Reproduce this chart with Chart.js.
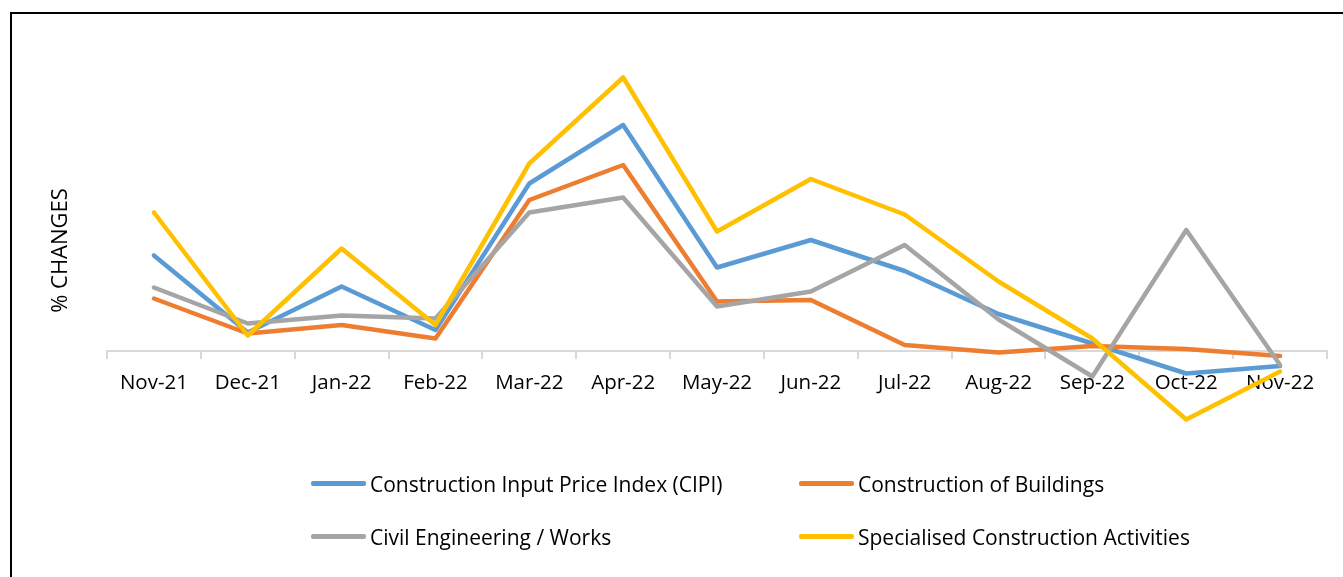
<!DOCTYPE html>
<html>
<head>
<meta charset="utf-8">
<script src="https://cdn.jsdelivr.net/npm/chart.js@4.4.1/dist/chart.umd.min.js"></script>
<style>
  html, body { margin: 0; padding: 0; background: #fff; overflow: hidden; width: 1343px; height: 577px; }
  #frame { position: absolute; left: 10px; top: 12px; width: 1500px; height: 700px;
           border-top: 2px solid #000; border-left: 2px solid #000; box-sizing: border-box; }
  #c { position: absolute; left: 0; top: 0; }
  #legend { position: absolute; left: 0; top: 0; width: 1343px; height: 577px; pointer-events: none;
            font-family: "Open Sans", "Noto Sans", sans-serif; font-size: 21px; color: #000; }
  .li { position: absolute; display: flex; align-items: center; height: 30px; white-space: nowrap; }
  .sw { width: 55px; height: 4.5px; border-radius: 2px; margin-right: 4px; }
</style>
</head>
<body>
<div id="frame"></div>
<canvas id="c" width="1343" height="577"></canvas>
<div id="legend"></div>
<script>
const categories = ["Nov-21","Dec-21","Jan-22","Feb-22","Mar-22","Apr-22","May-22","Jun-22","Jul-22","Aug-22","Sep-22","Oct-22","Nov-22"];
const seriesNames = ["Construction Input Price Index (CIPI)","Construction of Buildings","Civil Engineering / Works","Specialised Construction Activities"];
const cipi        = [1.90, 0.36, 1.28, 0.41, 3.34, 4.51, 1.66, 2.21, 1.59, 0.73, 0.14, -0.46, -0.31];
const buildings   = [1.04, 0.34, 0.51, 0.24, 3.01, 3.71, 0.98, 1.01, 0.11, -0.04, 0.09, 0.03, -0.11];
const civil       = [1.26, 0.54, 0.70, 0.64, 2.76, 3.06, 0.88, 1.18, 2.11, 0.62, -0.52, 2.41, -0.29];
const specialised = [2.76, 0.30, 2.04, 0.51, 3.74, 5.46, 2.38, 3.43, 2.72, 1.38, 0.24, -1.38, -0.42];
const yTitle = "% CHANGES";

const colors = ["#5B9BD5", "#ED7D31", "#A5A5A5", "#FFC000"];
const allSeries = [cipi, buildings, civil, specialised];

const datasets = allSeries.map((d, i) => ({
  label: seriesNames[i],
  data: d,
  borderColor: colors[i],
  backgroundColor: colors[i],
  borderWidth: 4.5,
  pointRadius: 0,
  pointHoverRadius: 0,
  tension: 0,
  fill: false,
  borderJoinStyle: 'round',
  borderCapStyle: 'round',
  order: 4 - i
}));

const chart = new Chart(document.getElementById('c'), {
  type: 'line',
  data: { labels: categories, datasets },
  options: {
    responsive: false,
    animation: false,
    devicePixelRatio: 1,
    layout: { padding: { left: 44, right: 16, top: 50.5, bottom: 126.5 } },
    plugins: { legend: { display: false }, tooltip: { enabled: false } },
    scales: {
      x: {
        position: { y: 0 },
        offset: true,
        grid: { display: true, drawOnChartArea: false, drawTicks: true, tickLength: 7, color: '#D9D9D9', lineWidth: 2, offset: true },
        border: { display: true, color: '#D9D9D9', width: 2 },
        ticks: { color: '#000', font: { family: '"Open Sans", "Noto Sans", sans-serif', size: 20.5 }, maxRotation: 0, autoSkip: false, padding: 13 }
      },
      y: {
        min: -2,
        max: 6,
        grid: { display: false },
        border: { display: false },
        ticks: { display: false },
        title: { display: true, text: yTitle, color: '#000', font: { family: '"Open Sans", "Noto Sans", sans-serif', size: 22 }, padding: { top: 4, bottom: 10 } },
        afterFit: (s) => { s.width = 63; }
      }
    }
  }
});

// HTML legend built from chart datasets
const legendEl = document.getElementById('legend');
const colX = [311, 799];
const rowY = [483.5, 536.5];
chart.data.datasets.forEach((ds, i) => {
  const item = document.createElement('div');
  item.className = 'li';
  item.style.left = colX[i % 2] + 'px';
  item.style.top = (rowY[Math.floor(i / 2)] - 15) + 'px';
  const sw = document.createElement('span');
  sw.className = 'sw';
  sw.style.background = ds.borderColor;
  const tx = document.createElement('span');
  tx.textContent = ds.label;
  item.appendChild(sw);
  item.appendChild(tx);
  legendEl.appendChild(item);
});
</script>
</body>
</html>
